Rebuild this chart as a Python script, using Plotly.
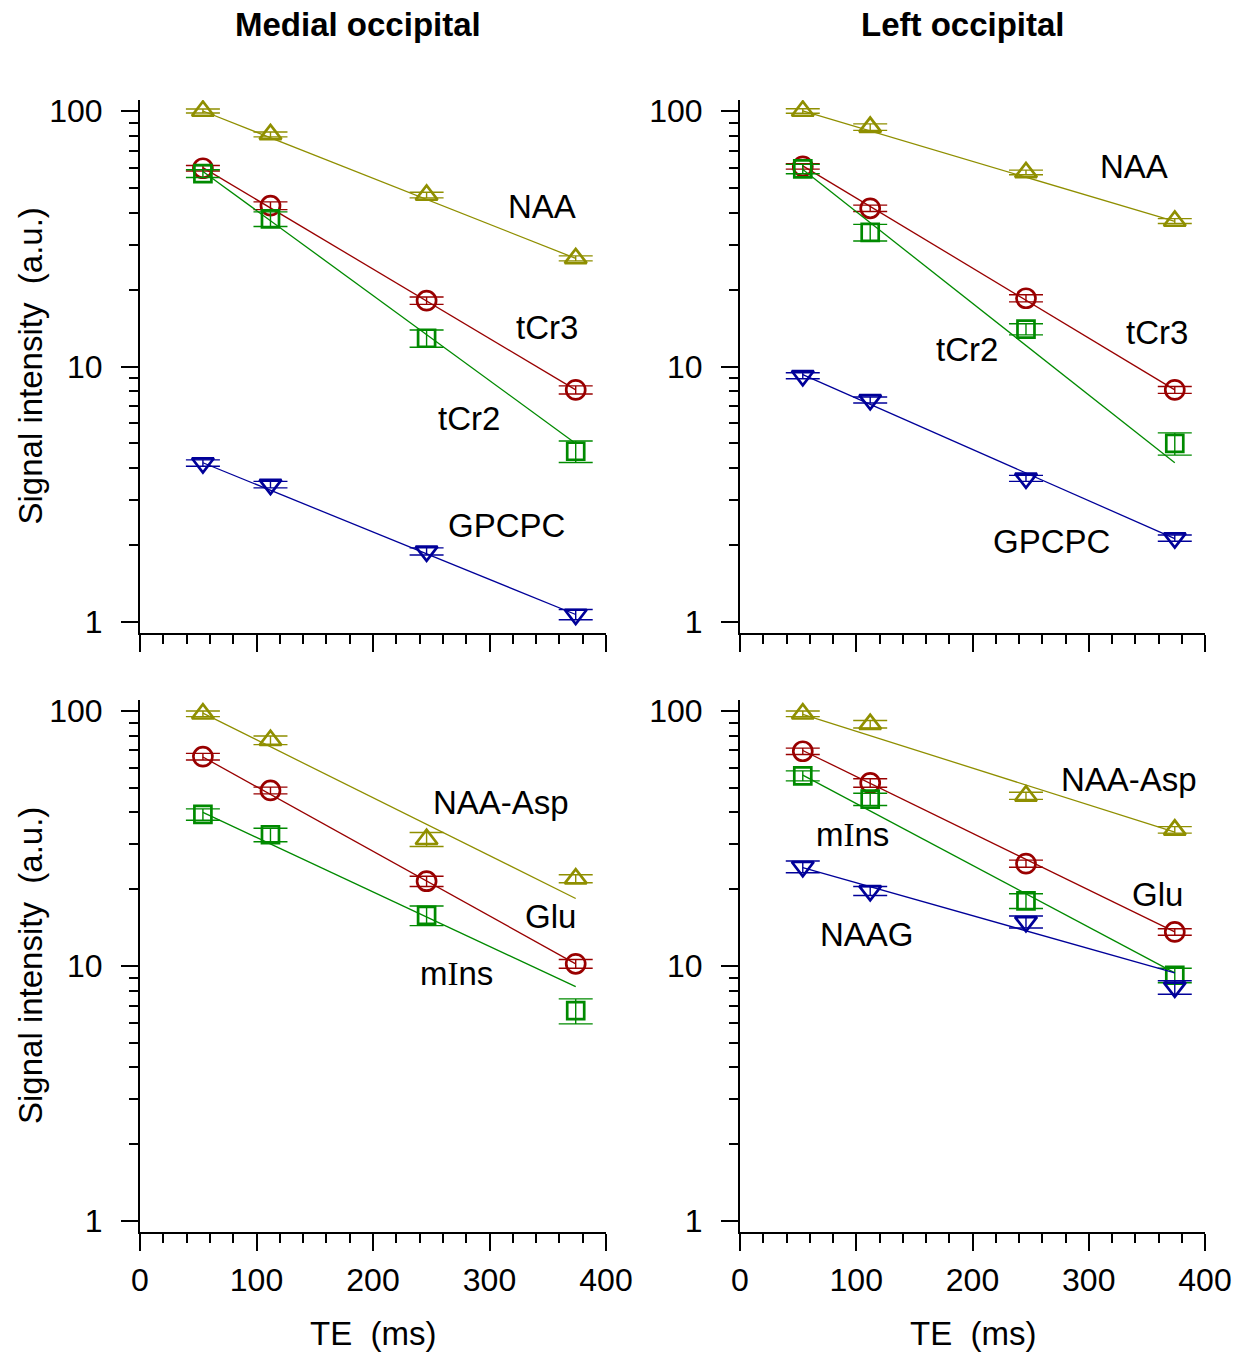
import plotly.graph_objects as go

# Echo times (ms)
TE = [54, 112, 246, 374]
TE_FIT = [54, 374]

# Medial occipital, upper panel
MED_NAA = [100, 81, 46.9, 26.5]
MED_NAA_ERR = [1.8, 1.8, 1.2, 0.6]
MED_NAA_FIT = [100, 26.5]
MED_TCR3 = [59.7, 42.6, 18.1, 8.1]
MED_TCR3_ERR = [1.5, 1.5, 0.6, 0.3]
MED_TCR3_FIT = [60, 8.1]
MED_TCR2 = [56.9, 37.8, 12.9, 4.66]
MED_TCR2_ERR = [2.0, 2.5, 1.0, 0.45]
MED_TCR2_FIT = [58, 5.0]
MED_GPCPC = [4.19, 3.45, 1.89, 1.07]
MED_GPCPC_ERR = [0.12, 0.1, 0.06, 0.05]
MED_GPCPC_FIT = [4.2, 1.07]

# Left occipital, upper panel
LEFT_NAA = [100, 86.5, 57.5, 37.1]
LEFT_NAA_ERR = [2.0, 2.5, 1.2, 0.8]
LEFT_NAA_FIT = [100, 37.0]
LEFT_TCR3 = [60.7, 41.6, 18.5, 8.1]
LEFT_TCR3_ERR = [1.5, 1.2, 0.6, 0.25]
LEFT_TCR3_FIT = [61, 8.1]
LEFT_TCR2 = [59.3, 33.5, 14.0, 5.0]
LEFT_TCR2_ERR = [2.5, 2.5, 0.7, 0.5]
LEFT_TCR2_FIT = [59, 4.2]
LEFT_GPCPC = [9.2, 7.4, 3.65, 2.13]
LEFT_GPCPC_ERR = [0.25, 0.2, 0.1, 0.06]
LEFT_GPCPC_FIT = [9.3, 2.12]

# Medial occipital, lower panel
MED_NAAASP = [97.5, 76.8, 31.4, 22.0]
MED_NAAASP_ERR = [2.5, 3.0, 2.0, 0.8]
MED_NAAASP_FIT = [98, 18.4]
MED_GLU = [66.2, 48.8, 21.5, 10.2]
MED_GLU_ERR = [2.0, 1.5, 1.0, 0.4]
MED_GLU_FIT = [66, 10.2]
MED_MINS = [39.3, 32.7, 15.8, 6.68]
MED_MINS_ERR = [2.0, 2.0, 1.4, 0.75]
MED_MINS_FIT = [40, 8.3]

# Left occipital, lower panel
LEFT_NAAASP = [97.5, 88.8, 46.5, 34.2]
LEFT_NAAASP_ERR = [2.5, 3.0, 1.5, 1.0]
LEFT_NAAASP_FIT = [97, 33.5]
LEFT_GLU = [69.5, 52.2, 25.2, 13.6]
LEFT_GLU_ERR = [2.0, 2.0, 0.8, 0.4]
LEFT_GLU_FIT = [70, 13.6]
LEFT_MINS = [55.7, 45.1, 18.0, 9.2]
LEFT_MINS_ERR = [2.5, 2.5, 1.2, 0.6]
LEFT_MINS_FIT = [56, 9.4]
LEFT_NAAG = [24.5, 19.7, 14.9, 8.25]
LEFT_NAAG_ERR = [1.3, 0.8, 0.8, 0.5]
LEFT_NAAG_FIT = [24.3, 9.4]

PANEL_TITLES = ["Medial occipital", "Left occipital"]
Y_TITLE = "Signal intensity  (a.u.)"
X_TITLE = "TE  (ms)"
X_TICKS = [0, 100, 200, 300, 400]
Y_TICKS = [1, 10, 100]
Y_MINOR = [2, 3, 4, 5, 6, 7, 8, 9, 20, 30, 40, 50, 60, 70, 80, 90]

OLIVE = "#8f8f00"
RED = "#990000"
GREEN = "#008a00"
BLUE = "#000099"

FONT = "Arial, Liberation Sans, sans-serif"
SERIF = "Liberation Serif, Times New Roman, serif"
TXT = 33
TICK_TXT = 32
W, H = 1250, 1353

fig = go.Figure()

# panel pixel boxes: (left, right, top, bottom)
BOXES = {
    1: (140, 606, 100, 633),
    2: (740, 1205, 100, 633),
    3: (140, 606, 700, 1232),
    4: (740, 1205, 700, 1232),
}

symbol_size = {
    "triangle-up-open": 19,
    "triangle-down-open": 19,
    "circle-open": 19,
    "square-open": 17,
}


def ax(kind, p):
    return kind if p == 1 else f"{kind}{p}"


def add_series(panel, values, errors, fit, color, symbol):
    fig.add_trace(go.Scatter(
        x=TE_FIT, y=fit, mode="lines", xaxis=ax("x", panel), yaxis=ax("y", panel),
        line=dict(color=color, width=1.3), showlegend=False, hoverinfo="skip",
    ))
    fig.add_trace(go.Scatter(
        x=TE, y=values, mode="markers", xaxis=ax("x", panel), yaxis=ax("y", panel),
        marker=dict(symbol=symbol, size=symbol_size[symbol], color=color,
                    line=dict(color=color, width=2.7)),
        error_y=dict(type="data", array=errors, visible=True, color=color,
                     thickness=1.4, width=17),
        showlegend=False,
    ))


add_series(1, MED_NAA, MED_NAA_ERR, MED_NAA_FIT, OLIVE, "triangle-up-open")
add_series(1, MED_TCR3, MED_TCR3_ERR, MED_TCR3_FIT, RED, "circle-open")
add_series(1, MED_TCR2, MED_TCR2_ERR, MED_TCR2_FIT, GREEN, "square-open")
add_series(1, MED_GPCPC, MED_GPCPC_ERR, MED_GPCPC_FIT, BLUE, "triangle-down-open")

add_series(2, LEFT_NAA, LEFT_NAA_ERR, LEFT_NAA_FIT, OLIVE, "triangle-up-open")
add_series(2, LEFT_TCR3, LEFT_TCR3_ERR, LEFT_TCR3_FIT, RED, "circle-open")
add_series(2, LEFT_TCR2, LEFT_TCR2_ERR, LEFT_TCR2_FIT, GREEN, "square-open")
add_series(2, LEFT_GPCPC, LEFT_GPCPC_ERR, LEFT_GPCPC_FIT, BLUE, "triangle-down-open")

add_series(3, MED_NAAASP, MED_NAAASP_ERR, MED_NAAASP_FIT, OLIVE, "triangle-up-open")
add_series(3, MED_GLU, MED_GLU_ERR, MED_GLU_FIT, RED, "circle-open")
add_series(3, MED_MINS, MED_MINS_ERR, MED_MINS_FIT, GREEN, "square-open")

add_series(4, LEFT_NAAASP, LEFT_NAAASP_ERR, LEFT_NAAASP_FIT, OLIVE, "triangle-up-open")
add_series(4, LEFT_GLU, LEFT_GLU_ERR, LEFT_GLU_FIT, RED, "circle-open")
add_series(4, LEFT_MINS, LEFT_MINS_ERR, LEFT_MINS_FIT, GREEN, "square-open")
add_series(4, LEFT_NAAG, LEFT_NAAG_ERR, LEFT_NAAG_FIT, BLUE, "triangle-down-open")

layout = dict(
    template="none",
    width=W, height=H,
    margin=dict(l=0, r=0, t=0, b=0, pad=0),
    paper_bgcolor="white", plot_bgcolor="white",
    font=dict(family=FONT, size=TXT, color="black"),
    showlegend=False,
)

for p, (l, r, t, b) in BOXES.items():
    layout[ax("xaxis", p)] = dict(
        domain=[l / W, r / W], anchor=ax("y", p), range=[0, 400],
        tickmode="array", tickvals=X_TICKS, showticklabels=p >= 3,
        ticks="outside", ticklen=17, tickwidth=2, tickcolor="black",
        ticklabelstandoff=2,
        showline=True, linewidth=2, linecolor="black",
        showgrid=False, zeroline=False, automargin=False,
        tickfont=dict(size=TICK_TXT, family=FONT),
        minor=dict(dtick=20, tick0=0, ticks="outside", ticklen=9,
                   tickwidth=2, tickcolor="black", showgrid=False),
    )
    layout[ax("yaxis", p)] = dict(
        domain=[1 - b / H, 1 - t / H], anchor=ax("x", p), type="log",
        range=[-0.043, 2.043],
        tickmode="array", tickvals=Y_TICKS, ticktext=[str(v) for v in Y_TICKS],
        ticks="outside", ticklen=17, tickwidth=2, tickcolor="black",
        ticklabelstandoff=12,
        showline=True, linewidth=2, linecolor="black",
        showgrid=False, zeroline=False, automargin=False,
        tickfont=dict(size=TICK_TXT, family=FONT),
        minor=dict(tickvals=Y_MINOR, ticks="outside", ticklen=9,
                   tickwidth=2, tickcolor="black", showgrid=False),
    )

fig.update_layout(**layout)

# Column headings
for title, cx in zip(PANEL_TITLES, (358, 963)):
    fig.add_annotation(text="<b>" + title + "</b>", xref="paper", yref="paper",
                       x=cx / W, y=1 - 25 / H, showarrow=False,
                       font=dict(size=TXT), xanchor="center", yanchor="middle")

# Axis titles
for p in (1, 3):
    l, r, t, b = BOXES[p]
    fig.add_annotation(text=Y_TITLE, xref="paper", yref="paper",
                       x=30 / W, y=1 - (t + b) / 2 / H, textangle=-90,
                       showarrow=False, font=dict(size=TXT),
                       xanchor="center", yanchor="middle")
for p in (3, 4):
    l, r, t, b = BOXES[p]
    fig.add_annotation(text=X_TITLE, xref="paper", yref="paper",
                       x=(l + r) / 2 / W, y=1 - 1333 / H,
                       showarrow=False, font=dict(size=TXT),
                       xanchor="center", yanchor="middle")

# myo-inositol label, with a serif capital I
MINS_TXT = 'm<span style="font-family:' + SERIF + '">I</span>ns'

# Metabolite labels: (panel, text, TE position, log10 intensity position)
LABELS = [
    (1, "NAA", 345, 1.628), (1, "tCr3", 349, 1.151),
    (1, "tCr2", 282, 0.798), (1, "GPCPC", 315, 0.376),
    (2, "NAA", 339, 1.781), (2, "tCr3", 359, 1.135),
    (2, "tCr2", 195, 1.065), (2, "GPCPC", 268, 0.317),
    (3, "NAA-Asp", 310, 1.643), (3, "Glu", 352, 1.196), (3, MINS_TXT, 272, 0.969),
    (4, "NAA-Asp", 335, 1.733), (4, MINS_TXT, 97, 1.514),
    (4, "Glu", 359, 1.282), (4, "NAAG", 109, 1.125),
]
for p, txt, lx, ly in LABELS:
    fig.add_annotation(text=txt, x=lx, y=ly, xref=ax("x", p), yref=ax("y", p),
                       showarrow=False, font=dict(size=TXT),
                       xanchor="center", yanchor="middle")

fig.write_html("out.html")
